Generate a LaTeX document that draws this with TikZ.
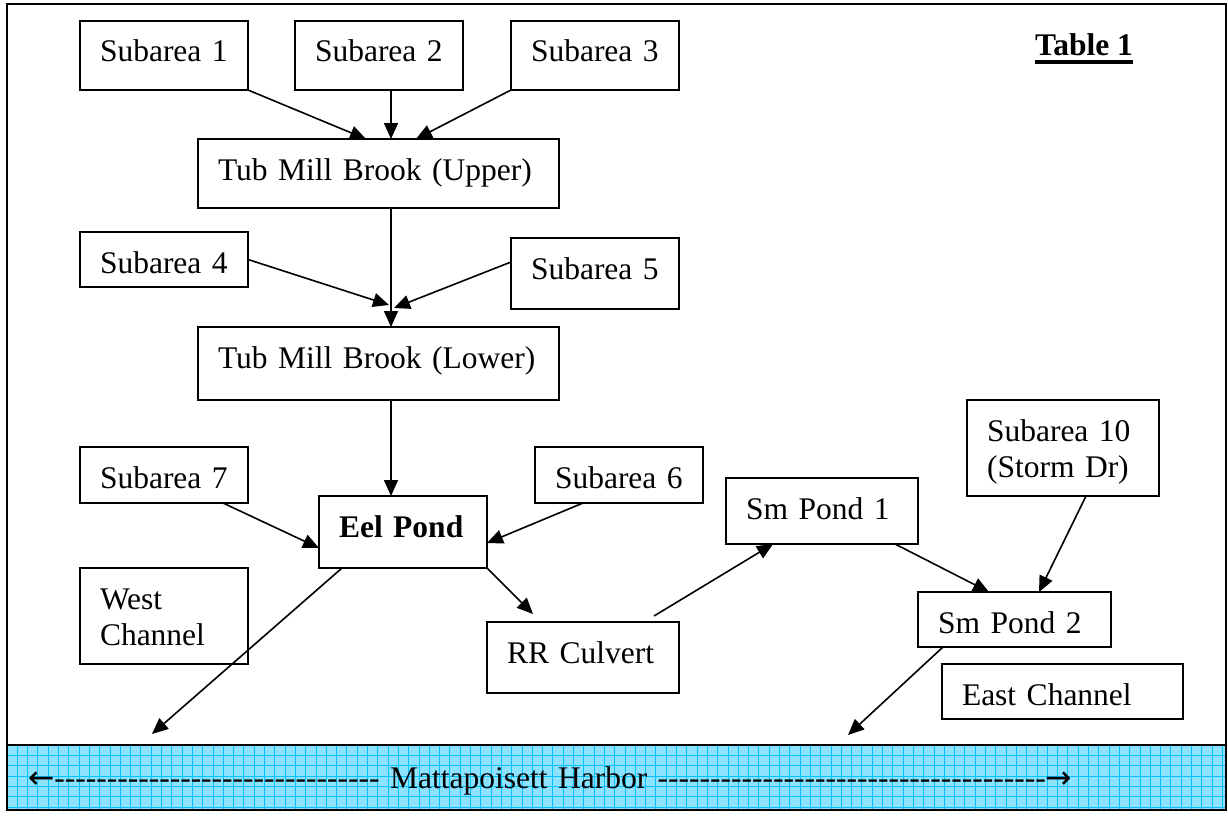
\documentclass[tikz,border=0pt]{standalone}
\usepackage{fontspec}
\setmainfont{Liberation Serif}
\newfontfamily\arrowfont{DejaVu Sans}
\usetikzlibrary{arrows.meta}
\definecolor{bandfill}{RGB}{140,226,255}
\definecolor{bandgrid}{RGB}{0,196,255}
\newcommand\boxfont{\fontsize{31.5}{36.5}\selectfont}
\ExplSyntaxOn
\cs_new:Npn \hyphrun #1 {\prg_replicate:nn{#1}{\hbox{-}}}
\ExplSyntaxOff
\tikzset{
  box/.style={draw, line width=1.8pt, anchor=north west, outer sep=0pt,
    inner xsep=20pt, inner ysep=0pt, align=left, text height=41pt, font=\boxfont},
  flow/.style={line width=1.6pt, -{Triangle[length=16pt,width=14pt]}},
  gridline/.style={bandgrid, line width=0.9pt},
  harbor/.style={draw, line width=2pt, anchor=north west, outer sep=0pt,
    fill=bandfill, inner xsep=21pt, inner ysep=0pt, text width=1177pt,
    align=left, text height=43pt, text depth=22pt, font=\boxfont,
    path picture={
      \foreach \k in {1,...,118}
        \draw[gridline] ([xshift={10.3*\k}]path picture bounding box.north west)
                     -- ([xshift={10.3*\k}]path picture bounding box.south west);
      \foreach \k in {1,...,6}
        \draw[gridline] ([yshift={-10.35*\k}]path picture bounding box.north west)
                     -- ([yshift={-10.35*\k}]path picture bounding box.north east);
    }},
}
\begin{document}
\begin{tikzpicture}[x=1pt,y=-1pt]
\useasboundingbox[fill=white] (0,0) rectangle (1228,816);
\draw[line width=2pt] (7,4) rectangle (1226,810);

\node[box, text width=128pt, text depth=28pt] (s1) at (80,21) {Subarea 1};
\node[box, text width=128pt, text depth=28pt] (s2) at (295,21) {Subarea 2};
\node[box, text width=128pt, text depth=28pt] (s3) at (511,21) {Subarea 3};
\node[box, text width=321pt, text depth=28pt] (up) at (198,139) {Tub Mill Brook (Upper)};
\node[box, text width=128pt, text depth=14pt] (s4) at (80,232) {Subarea 4};
\node[box, text width=128pt, text depth=30pt] (s5) at (511,238) {Subarea 5};
\node[box, text width=321pt, text depth=32pt] (low) at (198,327) {Tub Mill Brook (Lower)};
\node[box, text width=128pt, text depth=15pt] (s7) at (80,447) {Subarea 7};
\node[box, text width=128pt, text depth=15pt] (s6) at (535,447) {Subarea 6};
\node[box, text width=128pt, text depth=31pt] (eel) at (319,496) {\bfseries Eel Pond};
\node[box, text width=128pt, text depth=55pt] (west) at (80,568) {West\\Channel};
\node[box, text width=152pt, text depth=30pt] (rr) at (487,622) {RR Culvert};
\node[box, text width=152pt, text depth=25pt] (sm1) at (726,478) {Sm Pond 1};
\node[box, text width=152pt, text depth=55pt] (s10) at (967,400) {Subarea 10\\(Storm Dr)};
\node[box, text width=153pt, text depth=14pt] (sm2) at (918,592) {Sm Pond 2};
\node[box, text width=201pt, text depth=14pt] (east) at (942,664) {East Channel};

\node[anchor=base west, inner sep=0pt, font=\boxfont\bfseries] (title) at (1035,56) {Table 1};
\draw[line width=3.5pt] ([yshift=-6pt]title.base west) -- ([yshift=-6pt]title.base east);

\node[harbor] (harbor) at (7,745) {{\arrowfont ←}\hyphrun{31} Mattapoisett Harbor \hyphrun{37}{\arrowfont →}};

\draw[flow] (s1.south east) -- ([xshift=-12.5pt]up.north);
\draw[flow] ([xshift=12pt]s2.south) -- ([xshift=12.5pt]up.north);
\draw[flow] (s3.south west) -- ([xshift=37.5pt]up.north);
\draw[flow] ([xshift=12.5pt]up.south) -- ([xshift=12.5pt]low.north);
\draw[flow] (s4.east) -- ([xshift=10.5pt,yshift=22pt]low.north);
\draw[flow] ([yshift=11.5pt]s5.west) -- ([xshift=15.5pt,yshift=19pt]low.north);
\draw[flow] ([xshift=12.5pt]low.south) -- ([xshift=-12pt]eel.north);
\draw[flow] ([xshift=59pt]s7.south) -- ([yshift=-16pt]eel.west);
\draw[flow] ([xshift=-36pt]s6.south) -- ([yshift=-11pt]eel.east);
\draw[flow] ([xshift=-61pt]eel.south) -- ([xshift=145pt,yshift=11pt]harbor.north west);
\draw[flow] (eel.south east) -- ([xshift=46pt,yshift=8pt]rr.north west);
\draw[flow] ([xshift=71pt,yshift=6pt]rr.north) -- ([xshift=-49pt]sm1.south);
\draw[flow] ([xshift=73pt]sm1.south) -- ([xshift=-25.5pt]sm2.north);
\draw[flow] ([xshift=23pt]s10.south) -- ([xshift=24.5pt]sm2.north);
\draw[flow] ([xshift=25pt]sm2.south west) -- ([xshift=841pt,yshift=10pt]harbor.north west);
\end{tikzpicture}
\end{document}
